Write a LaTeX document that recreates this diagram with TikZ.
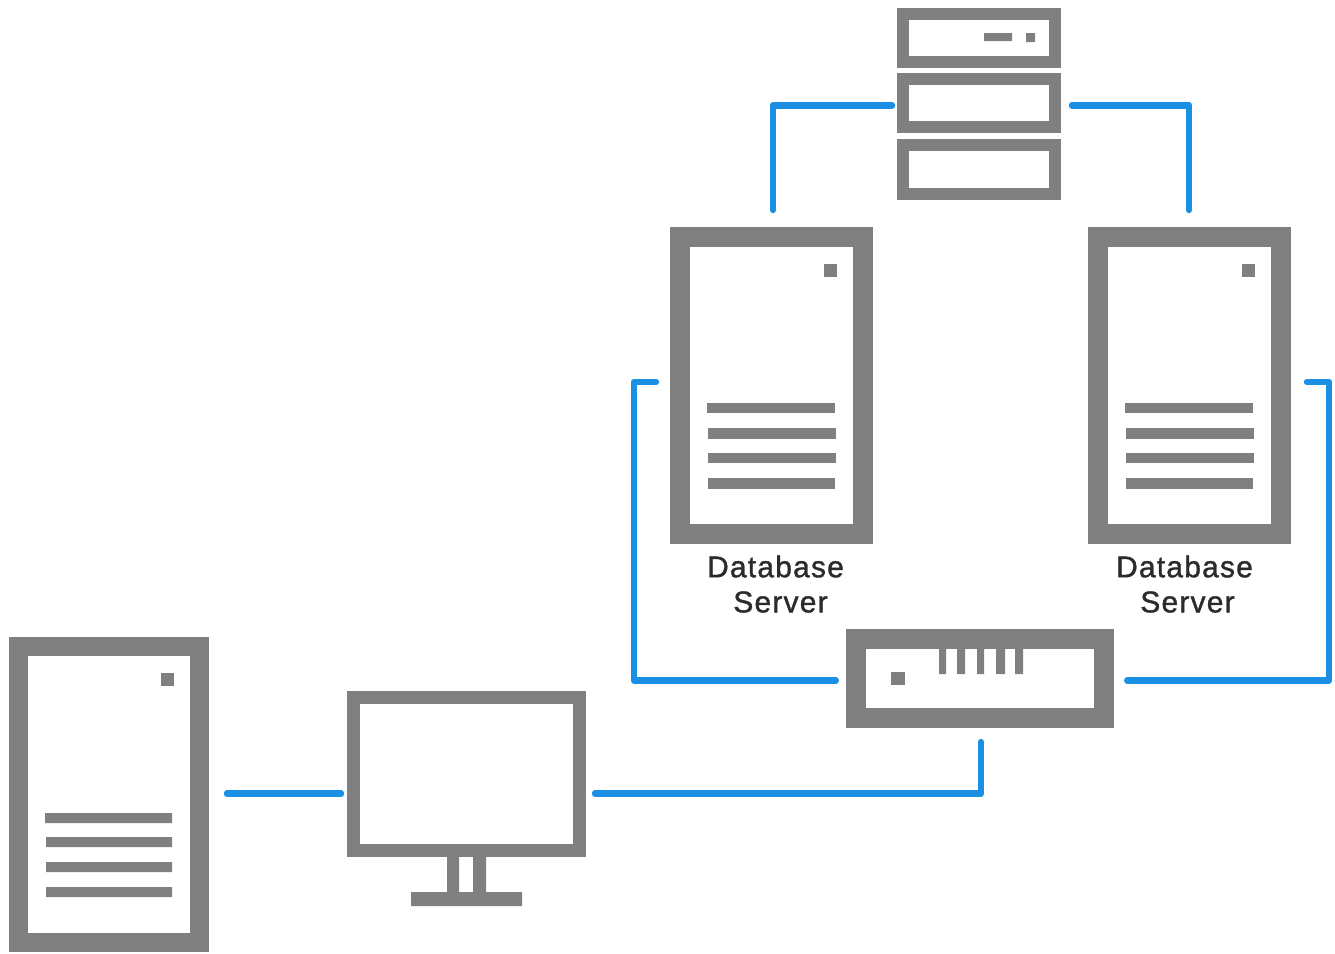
\documentclass[tikz,border=0pt]{standalone}
\usepackage{fontspec}
\setmainfont[LetterSpace=4,FakeBold=1.2]{Liberation Sans}
\definecolor{hw}{HTML}{808080}
\definecolor{wirec}{HTML}{1A8FE3}
\definecolor{txt}{HTML}{2B2B2B}
\begin{document}
\begin{tikzpicture}[x=1pt,y=-1pt,
  hwbox/.style={draw=hw,fill=white,rectangle,inner sep=0pt,line width=#1},
  hwbox/.default=12pt,
  wire/.style={draw=wirec,line width=6.5pt,line cap=round,line join=round},
  lbl/.style={font=\fontsize{30}{35}\selectfont,text=txt,inner sep=0pt,anchor=center}]
\useasboundingbox (0,0) rectangle (1335,953);
% rack
\node[hwbox=12pt,minimum width=152pt,minimum height=48pt] (rackA) at (979,37.5) {};
\node[hwbox=12pt,minimum width=152pt,minimum height=48pt] (rackB) at (979,103) {};
\node[hwbox=12pt,minimum width=152pt,minimum height=49pt] (rackC) at (979,169.5) {};
\fill[hw] (984,33) rectangle (1012,41) (1026,33) rectangle (1035,42);
% database servers
\node[hwbox=20pt,minimum width=183pt,minimum height=297pt] (dbA) at (771.5,385.5) {};
\node[hwbox=20pt,minimum width=183pt,minimum height=297pt] (dbB) at (1189.5,385.5) {};
\foreach \d in {0,418}{
  \begin{scope}[shift={(\d,0)}]
    \fill[hw] (824,264) rectangle (837,277);
    \fill[hw] (707,403) rectangle (835,413);
    \fill[hw] (708,428) rectangle (836,439);
    \fill[hw] (708,453) rectangle (836,463);
    \fill[hw] (708,478) rectangle (835,489);
  \end{scope}
}
\node[lbl] (lblA1) at (775.5,566.5) {Database};
\node[lbl] (lblA2) at (780.5,602) {Server};
\node[lbl] (lblB1) at (1184.5,566.5) {Database};
\node[lbl] (lblB2) at (1187.5,602) {Server};
% switch
\node[hwbox=20pt,minimum width=248.5pt,minimum height=79.5pt] (sw) at (980,678.3) {};
\fill[hw] (891,672) rectangle (905,685);
\fill[hw] (939,648) rectangle (946,674) (957,648) rectangle (965,674)
  (977,648) rectangle (984,674) (996,648) rectangle (1005,674) (1015,648) rectangle (1023,674);
% monitor
\fill[hw] (447,850) rectangle (459,895) (473,850) rectangle (486,895) (411,892) rectangle (522,906);
\node[hwbox=13pt,minimum width=226pt,minimum height=153pt] (mon) at (466.5,773.5) {};
% left server
\node[hwbox=19pt,minimum width=181pt,minimum height=296pt] (srv) at (109,794.5) {};
\fill[hw] (161,673) rectangle (174,686);
\fill[hw] (45,813) rectangle (172,823) (46,837) rectangle (172,847)
  (46,862) rectangle (172,872) (46,887) rectangle (172,897);
% connectors
\draw[wire,shorten <=5pt,shorten >=17pt] ([yshift=-2.3pt]rackB.west) -| ([xshift=1.5pt]dbA.north);
\draw[wire,shorten <=11pt,shorten >=17pt] ([yshift=-2.3pt]rackB.east) -| ([xshift=-0.5pt]dbB.north);
\draw[wire,shorten <=14pt,shorten >=10pt] ([yshift=3.5pt]dbA.west) -- ++(-36,0) |- ([yshift=-2.2pt]sw.west);
\draw[wire,shorten <=16pt,shorten >=13pt] ([yshift=3.5pt]dbB.east) -- ++(38,0) |- ([yshift=-2.2pt]sw.east);
\draw[wire,shorten <=18pt,shorten >=6pt] ([yshift=1pt]srv.east) -- ([yshift=-20pt]mon.west);
\draw[wire,shorten <=9pt,shorten >=14pt] ([yshift=-20pt]mon.east) -| ([xshift=1pt]sw.south);
\end{tikzpicture}
\end{document}
